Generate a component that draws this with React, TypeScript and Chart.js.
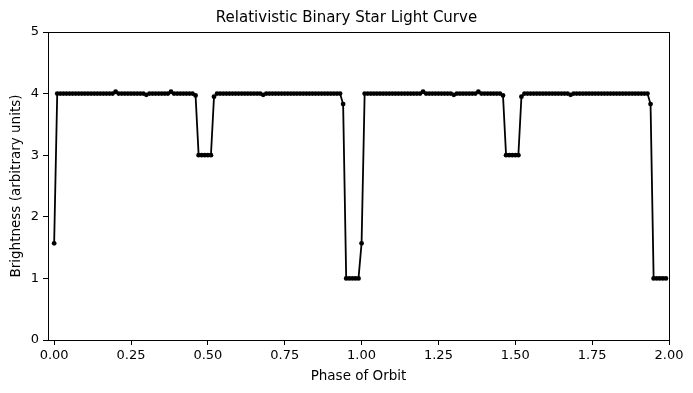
import React, { useEffect, useRef } from 'react';
import { Chart, registerables } from 'chart.js';

Chart.register(...registerables);

const chartTitle = 'Relativistic Binary Star Light Curve';
const xAxisLabel = 'Phase of Orbit';
const yAxisLabel = 'Brightness (arbitrary units)';

const phase = [
  0.00, 0.01, 0.02, 0.03, 0.04, 0.05, 0.06, 0.07, 0.08, 0.09,
  0.10, 0.11, 0.12, 0.13, 0.14, 0.15, 0.16, 0.17, 0.18, 0.19,
  0.20, 0.21, 0.22, 0.23, 0.24, 0.25, 0.26, 0.27, 0.28, 0.29,
  0.30, 0.31, 0.32, 0.33, 0.34, 0.35, 0.36, 0.37, 0.38, 0.39,
  0.40, 0.41, 0.42, 0.43, 0.44, 0.45, 0.46, 0.47, 0.48, 0.49,
  0.50, 0.51, 0.52, 0.53, 0.54, 0.55, 0.56, 0.57, 0.58, 0.59,
  0.60, 0.61, 0.62, 0.63, 0.64, 0.65, 0.66, 0.67, 0.68, 0.69,
  0.70, 0.71, 0.72, 0.73, 0.74, 0.75, 0.76, 0.77, 0.78, 0.79,
  0.80, 0.81, 0.82, 0.83, 0.84, 0.85, 0.86, 0.87, 0.88, 0.89,
  0.90, 0.91, 0.92, 0.93, 0.94, 0.95, 0.96, 0.97, 0.98, 0.99,
  1.00, 1.01, 1.02, 1.03, 1.04, 1.05, 1.06, 1.07, 1.08, 1.09,
  1.10, 1.11, 1.12, 1.13, 1.14, 1.15, 1.16, 1.17, 1.18, 1.19,
  1.20, 1.21, 1.22, 1.23, 1.24, 1.25, 1.26, 1.27, 1.28, 1.29,
  1.30, 1.31, 1.32, 1.33, 1.34, 1.35, 1.36, 1.37, 1.38, 1.39,
  1.40, 1.41, 1.42, 1.43, 1.44, 1.45, 1.46, 1.47, 1.48, 1.49,
  1.50, 1.51, 1.52, 1.53, 1.54, 1.55, 1.56, 1.57, 1.58, 1.59,
  1.60, 1.61, 1.62, 1.63, 1.64, 1.65, 1.66, 1.67, 1.68, 1.69,
  1.70, 1.71, 1.72, 1.73, 1.74, 1.75, 1.76, 1.77, 1.78, 1.79,
  1.80, 1.81, 1.82, 1.83, 1.84, 1.85, 1.86, 1.87, 1.88, 1.89,
  1.90, 1.91, 1.92, 1.93, 1.94, 1.95, 1.96, 1.97, 1.98, 1.99,
];

const brightness = [
  1.57, 4, 4, 4, 4, 4, 4, 4, 4, 4,
  4, 4, 4, 4, 4, 4, 4, 4, 4, 4,
  4.03, 4, 4, 4, 4, 4, 4, 4, 4, 4,
  3.98, 4, 4, 4, 4, 4, 4, 4, 4.03, 4,
  4, 4, 4, 4, 4, 4, 3.97, 3, 3, 3,
  3, 3, 3.95, 4, 4, 4, 4, 4, 4, 4,
  4, 4, 4, 4, 4, 4, 4, 4, 3.98, 4,
  4, 4, 4, 4, 4, 4, 4, 4, 4, 4,
  4, 4, 4, 4, 4, 4, 4, 4, 4, 4,
  4, 4, 4, 4, 3.83, 1, 1, 1, 1, 1,
  1.57, 4, 4, 4, 4, 4, 4, 4, 4, 4,
  4, 4, 4, 4, 4, 4, 4, 4, 4, 4,
  4.03, 4, 4, 4, 4, 4, 4, 4, 4, 4,
  3.98, 4, 4, 4, 4, 4, 4, 4, 4.03, 4,
  4, 4, 4, 4, 4, 4, 3.97, 3, 3, 3,
  3, 3, 3.95, 4, 4, 4, 4, 4, 4, 4,
  4, 4, 4, 4, 4, 4, 4, 4, 3.98, 4,
  4, 4, 4, 4, 4, 4, 4, 4, 4, 4,
  4, 4, 4, 4, 4, 4, 4, 4, 4, 4,
  4, 4, 4, 4, 3.83, 1, 1, 1, 1, 1,
];

const xTickValues = [0, 0.25, 0.5, 0.75, 1.0, 1.25, 1.5, 1.75, 2.0];
const yTickValues = [0, 1, 2, 3, 4, 5];

const FONT = "'DejaVu Sans', sans-serif";

export default function App() {
  const ref = useRef<HTMLCanvasElement>(null);

  useEffect(() => {
    if (!ref.current) return;
    const spines = {
      id: 'spines',
      afterDatasetsDraw(chart: any) {
        const { ctx, chartArea } = chart;
        const { left, top, right, bottom } = chartArea;
        ctx.save();
        ctx.strokeStyle = '#000';
        ctx.lineWidth = 1;
        ctx.strokeRect(left + 0.5, top + 0.5, right - left, bottom - top);
        ctx.restore();
      },
    };
    const figTitle = {
      id: 'figTitle',
      afterDraw(chart: any) {
        const { ctx, width } = chart;
        ctx.save();
        ctx.fillStyle = '#000';
        ctx.font = `15px ${FONT}`;
        ctx.textAlign = 'center';
        ctx.textBaseline = 'middle';
        ctx.fillText(chartTitle, width / 2, 18);
        ctx.restore();
      },
    };

    const chart = new Chart(ref.current, {
      type: 'line',
      data: {
        datasets: [
          {
            data: phase.map((x, i) => ({ x, y: brightness[i] })),
            borderColor: '#000',
            borderWidth: 1.8,
            pointRadius: 2.4,
            pointBackgroundColor: '#000',
            pointBorderColor: '#000',
            pointBorderWidth: 0,
            tension: 0,
            fill: false,
          },
        ],
      },
      options: {
        responsive: false,
        animation: false,
        events: [],
        layout: { padding: { left: 0, right: 24, top: 32, bottom: 0 } },
        plugins: {
          legend: { display: false },
          tooltip: { enabled: false },
          title: { display: false },
        },
        scales: {
          x: {
            type: 'linear',
            min: -0.02,
            max: 2.0,
            afterBuildTicks: (scale: any) => {
              scale.ticks = xTickValues.map((v) => ({ value: v }));
            },
            afterFit: (scale: any) => {
              scale.height = 53;
            },
            ticks: {
              color: '#000',
              font: { family: FONT, size: 13 },
              padding: 3,
              maxRotation: 0,
              autoSkip: false,
              callback: (v: any) => Number(v).toFixed(2),
            },
            grid: {
              display: true,
              drawOnChartArea: false,
              drawTicks: true,
              tickLength: 5,
              color: '#000',
              lineWidth: 1,
            },
            border: { display: false },
            title: {
              display: true,
              text: xAxisLabel,
              color: '#000',
              font: { family: FONT, size: 13.5 },
              padding: { top: 0, bottom: 8 },
            },
          },
          y: {
            type: 'linear',
            min: 0,
            max: 5,
            afterBuildTicks: (scale: any) => {
              scale.ticks = yTickValues.map((v) => ({ value: v }));
            },
            afterFit: (scale: any) => {
              scale.width = 48;
            },
            ticks: {
              color: '#000',
              font: { family: FONT, size: 13 },
              padding: 4,
              autoSkip: false,
              callback: (v: any) => String(v),
            },
            grid: {
              display: true,
              drawOnChartArea: false,
              drawTicks: true,
              tickLength: 5,
              color: '#000',
              lineWidth: 1,
            },
            border: { display: false },
            title: {
              display: true,
              text: yAxisLabel,
              color: '#000',
              font: { family: FONT, size: 13.5 },
              padding: { top: 8, bottom: 0 },
            },
          },
        },
      },
      plugins: [spines, figTitle],
    } as any);

    return () => chart.destroy();
  }, []);

  return (
    <div
      style={{
        position: 'fixed',
        left: 0,
        top: 0,
        width: 693,
        height: 393,
        background: '#fff',
      }}
    >
      <canvas ref={ref} width={693} height={393} style={{ display: 'block' }} />
    </div>
  );
}
